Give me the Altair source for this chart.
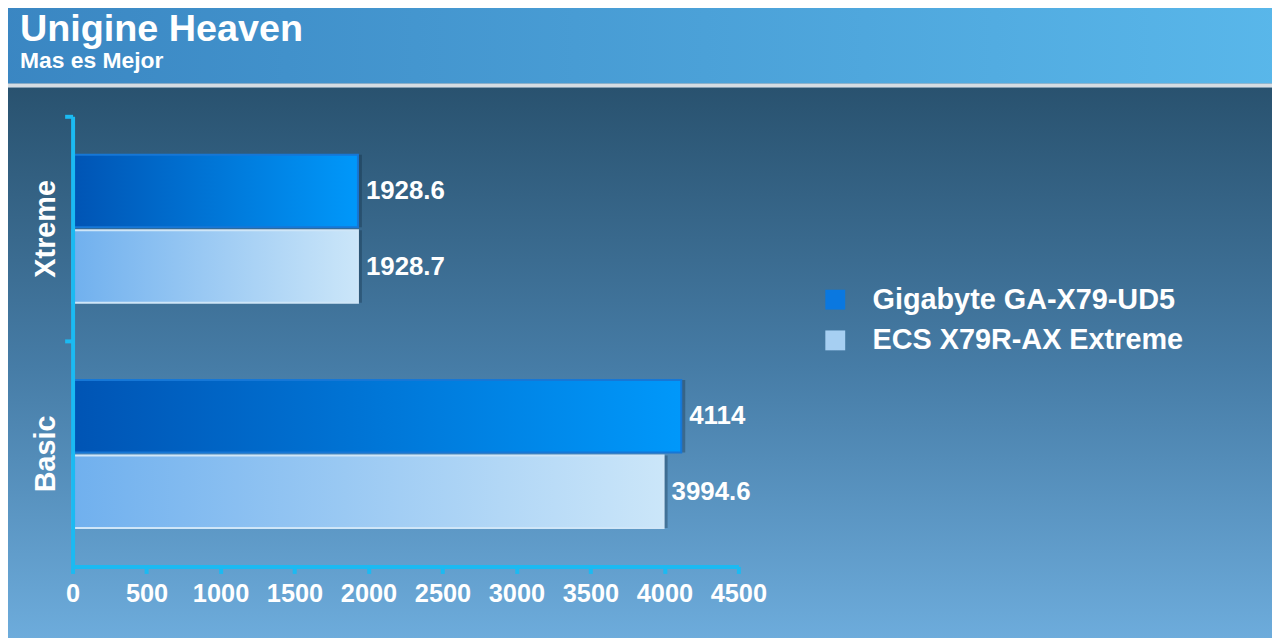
import altair as alt
import pandas as pd

# ---- data ----
categories = ["Xtreme", "Basic"]
series = ["Gigabyte GA-X79-UD5", "ECS X79R-AX Extreme"]
gigabyte = [1928.6, 4114]
ecs = [1928.7, 3994.6]
x_ticks = [0, 500, 1000, 1500, 2000, 2500, 3000, 3500, 4000, 4500]

rows = []
for i, c in enumerate(categories):
    for s, vals in zip(series, [gigabyte, ecs]):
        v = vals[i]
        rows.append({"cat": c, "series": s, "value": v, "label": f"{v:g}"})
df = pd.DataFrame(rows)
one = pd.DataFrame({"k": [0]})

FONT = "Liberation Sans"
CYAN = "#1bbaf2"
W, H = 670, 453
PL, PT, PR, PB = 65, 107, 537, 70

def lin(c0, c1, horiz=True, mid=None):
    stops = [alt.GradientStop(offset=0, color=c0)]
    if mid:
        stops.append(alt.GradientStop(offset=0.5, color=mid))
    stops.append(alt.GradientStop(offset=1, color=c1))
    if horiz:
        return alt.LinearGradient(gradient="linear", stops=stops, x1=0, x2=1, y1=0, y2=0)
    return alt.LinearGradient(gradient="linear", stops=stops, x1=0, x2=0, y1=0, y2=1)

# ---- decorative background ----
bg = alt.Chart(one).mark_rect(color=lin("#29526f", "#6eaddd", horiz=False, mid="#467ca6")).encode(
    x=alt.value(-PL - 10), x2=alt.value(W + PR + 10), y=alt.value(-29), y2=alt.value(H + PB + 10))
header = alt.Chart(one).mark_rect(color=lin("#3a86c2", "#59b7ea")).encode(
    x=alt.value(-PL - 10), x2=alt.value(W + PR + 10), y=alt.value(-PT - 10), y2=alt.value(-33))
hline = alt.Chart(one).mark_rect(color="#d5dce2").encode(
    x=alt.value(-PL - 10), x2=alt.value(W + PR + 10), y=alt.value(-33), y2=alt.value(-29))

# ---- bars ----
yenc = alt.Y("cat:N", sort=categories,
             scale=alt.Scale(paddingInner=0, paddingOuter=0),
             axis=alt.Axis(title=None, labelAngle=-90, labelAlign="center",
                           labelBaseline="alphabetic", labelFontSize=29,
                           labelColor="white", labelFont=FONT, labelFontWeight="bold",
                           labelPadding=10, tickSize=8, tickWidth=4, tickColor=CYAN,
                           domainColor=CYAN, domainWidth=4, bandPosition=0,
                           zindex=2))
yoff = alt.YOffset("series:N", sort=series,
                   scale=alt.Scale(paddingInner=0.04, paddingOuter=0.51))
xenc = alt.X("value:Q", scale=alt.Scale(domain=[0, 4500], nice=False),
             axis=alt.Axis(title=None, values=x_ticks, format="d", grid=False,
                           labelFontSize=25.5,
                           labelColor="white", labelFont=FONT, labelFontWeight="bold",
                           labelPadding=8, tickSize=7, tickWidth=4, tickColor=CYAN,
                           domainColor=CYAN, domainWidth=4, labelFlush=False,
                           labelOverlap=False, zindex=2))

shadow = alt.Chart(df).mark_bar(color="#0b2236", opacity=0.3, xOffset=4, x2Offset=4,
                                yOffset=4, y2Offset=4).encode(
    x=xenc, y=yenc, yOffset=yoff)

legend_bars = alt.Chart(df).mark_bar().encode(
    x=xenc, y=yenc, yOffset=yoff,
    color=alt.Color("series:N", sort=series,
                    scale=alt.Scale(domain=series, range=["#0a78e0", "#a6cff2"]),
                    legend=alt.Legend(title=None, orient="none", legendX=753, legendY=170,
                                      symbolType="square", symbolSize=400,
                                      symbolStrokeWidth=0, labelFontSize=29,
                                      labelColor="white", labelFont=FONT,
                                      labelFontWeight="bold", labelOffset=23,
                                      rowPadding=11, padding=0, labelLimit=600)))

g_bars = alt.Chart(df).transform_filter(alt.datum.series == series[0]).mark_bar(
    color=lin("#0054b4", "#0098fa"), stroke="#1677d6", strokeWidth=2).encode(
    x=xenc, y=yenc, yOffset=yoff)
e_bars = alt.Chart(df).transform_filter(alt.datum.series == series[1]).mark_bar(
    color=lin("#70b0ee", "#cbe6f9"), stroke="#cfe6f8", strokeWidth=2).encode(
    x=xenc, y=yenc, yOffset=yoff)

labels = alt.Chart(df).mark_text(align="left", baseline="middle", dx=8, fontSize=26,
                                 font=FONT, fontWeight="bold", color="white").encode(
    x=xenc, y=yenc, yOffset=yoff, text="label:N")

chart = alt.layer(bg, header, hline, shadow, legend_bars, g_bars, e_bars, labels).properties(
    width=W, height=H,
    autosize=alt.AutoSizeParams(type="none"),
    padding={"left": PL, "top": PT, "right": PR, "bottom": PB},
    title=alt.TitleParams(text="Unigine Heaven", subtitle="Mas es Mejor", anchor="start",
                          frame="group", dx=-53, dy=116, offset=43, color="white", font=FONT,
                          fontSize=38, fontWeight="bold", subtitleColor="white",
                          subtitleFont=FONT, subtitleFontSize=23,
                          subtitleFontWeight="bold", subtitlePadding=1, zindex=2),
).configure_view(stroke=None).configure(background="#3a6e96")

chart.save("out.html", embed_options={"renderer": "svg", "actions": False})
